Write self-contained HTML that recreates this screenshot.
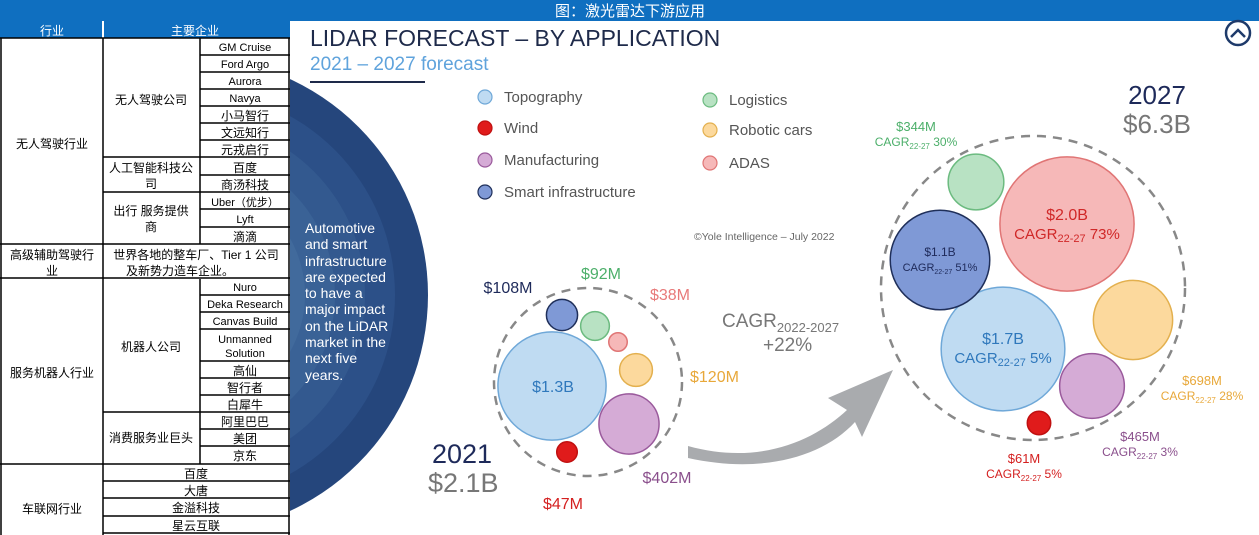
<!DOCTYPE html>
<html><head><meta charset="utf-8">
<style>
html,body{margin:0;padding:0;background:#fff;}
svg{display:block;font-family:"Liberation Sans","Noto Sans CJK SC",sans-serif;}
</style></head>
<body>
<svg id="root" width="1259" height="535" viewBox="0 0 1259 535" xmlns="http://www.w3.org/2000/svg">
  <rect x="0" y="0" width="1259" height="535" fill="#fff"/>
  <!-- left navy disc -->
  <g>
    <circle cx="190" cy="295" r="238" fill="#25467c"/>
    <circle cx="190" cy="295" r="205" fill="#2c5088"/>
    <circle cx="190" cy="295" r="175" fill="#33598f"/>
    <circle cx="190" cy="295" r="145" fill="#3a6296"/>
    <circle cx="190" cy="295" r="115" fill="#416a9c"/>
    <text fill="#fff" font-size="14" x="305">
      <tspan x="305" y="233">Automotive</tspan><tspan x="305" y="249">and smart</tspan><tspan x="305" y="266">infrastructure</tspan><tspan x="305" y="282">are expected</tspan><tspan x="305" y="298">to have a</tspan><tspan x="305" y="314">major impact</tspan><tspan x="305" y="331">on the LiDAR</tspan><tspan x="305" y="347">market in the</tspan><tspan x="305" y="363">next five</tspan><tspan x="305" y="380">years.</tspan>
    </text>
  </g>
  <!-- table -->
  <g font-size="12" fill="#000" text-anchor="middle">
    <rect x="0" y="21" width="290" height="514" fill="#fff"/>
    <rect x="0" y="21" width="290" height="17" fill="#0f6fc0"/>
    <line x1="103" y1="21" x2="103" y2="38" stroke="#fff" stroke-width="2"/>
    <text x="52" y="35" fill="#fff">行业</text>
    <text x="195" y="35" fill="#fff">主要企业</text>
    <g stroke="#000" stroke-width="1.5" fill="none">
      <line x1="1" y1="38" x2="1" y2="535"/>
      <line x1="103" y1="38" x2="103" y2="535"/>
      <line x1="200" y1="38" x2="200" y2="244"/>
      <line x1="200" y1="279" x2="200" y2="464"/>
      <line x1="289" y1="38" x2="289" y2="535"/>
      <line x1="0" y1="38" x2="290" y2="38"/>
      <line x1="200" y1="55" x2="290" y2="55"/><line x1="200" y1="72" x2="290" y2="72"/><line x1="200" y1="89" x2="290" y2="89"/><line x1="200" y1="106" x2="290" y2="106"/><line x1="200" y1="123" x2="290" y2="123"/><line x1="200" y1="140" x2="290" y2="140"/>
      <line x1="103" y1="157" x2="290" y2="157"/><line x1="200" y1="175" x2="290" y2="175"/>
      <line x1="103" y1="192" x2="290" y2="192"/><line x1="200" y1="209" x2="290" y2="209"/><line x1="200" y1="227" x2="290" y2="227"/>
      <line x1="0" y1="244" x2="290" y2="244"/>
      <line x1="0" y1="278" x2="290" y2="278"/>
      <line x1="200" y1="295" x2="290" y2="295"/><line x1="200" y1="312" x2="290" y2="312"/><line x1="200" y1="329" x2="290" y2="329"/><line x1="200" y1="361" x2="290" y2="361"/><line x1="200" y1="378" x2="290" y2="378"/><line x1="200" y1="395" x2="290" y2="395"/>
      <line x1="103" y1="412" x2="290" y2="412"/><line x1="200" y1="429" x2="290" y2="429"/><line x1="200" y1="446" x2="290" y2="446"/>
      <line x1="0" y1="464" x2="290" y2="464"/>
      <line x1="103" y1="481" x2="290" y2="481"/><line x1="103" y1="498" x2="290" y2="498"/><line x1="103" y1="516" x2="290" y2="516"/><line x1="103" y1="533" x2="290" y2="533"/>
    </g>
    <g font-size="11">
      <text x="245" y="51">GM Cruise</text><text x="245" y="68">Ford Argo</text><text x="245" y="85">Aurora</text><text x="245" y="102">Navya</text>
      <text x="245" y="120" font-size="12">小马智行</text><text x="245" y="137" font-size="12">文远知行</text><text x="245" y="154" font-size="12">元戎启行</text>
      <text x="245" y="172" font-size="12">百度</text><text x="245" y="189" font-size="12">商汤科技</text>
      <text x="245" y="206">Uber（优步）</text><text x="245" y="223">Lyft</text><text x="245" y="241" font-size="12">滴滴</text>
      <text x="245" y="291">Nuro</text><text x="245" y="308">Deka Research</text><text x="245" y="325">Canvas Build</text>
      <text x="245" y="343">Unmanned</text><text x="245" y="357">Solution</text>
      <text x="245" y="375" font-size="12">高仙</text><text x="245" y="392" font-size="12">智行者</text><text x="245" y="409" font-size="12">白犀牛</text>
      <text x="245" y="426" font-size="12">阿里巴巴</text><text x="245" y="443" font-size="12">美团</text><text x="245" y="460" font-size="12">京东</text>
    </g>
    <text x="151" y="104">无人驾驶公司</text>
    <text x="151" y="172">人工智能科技公</text><text x="151" y="188">司</text>
    <text x="151" y="215">出行 服务提供</text><text x="151" y="231">商</text>
    <text x="52" y="148">无人驾驶行业</text>
    <text x="52" y="259">高级辅助驾驶行</text><text x="52" y="275">业</text>
    <text x="196" y="259">世界各地的整车厂、Tier  1 公司</text><text x="180" y="275">及新势力造车企业。</text>
    <text x="151" y="351">机器人公司</text>
    <text x="151" y="442">消费服务业巨头</text>
    <text x="52" y="377">服务机器人行业</text>
    <text x="196" y="478">百度</text><text x="196" y="495">大唐</text><text x="196" y="512">金溢科技</text><text x="196" y="530">星云互联</text>
    <text x="52" y="513">车联网行业</text>
  </g>
  <!-- top bar -->
  <rect x="0" y="0" width="1259" height="21" fill="#0f6fc0"/>
  <text x="630" y="16" font-size="15" fill="#fff" text-anchor="middle">图：激光雷达下游应用</text>

  <!-- infographic headings -->
  <text x="310" y="46" font-size="23" fill="#1e2a4a">LIDAR FORECAST – BY APPLICATION</text>
  <text x="310" y="70" font-size="19" fill="#5fa3dc">2021 – 2027 forecast</text>
  <line x1="310" y1="82" x2="425" y2="82" stroke="#1e2a4a" stroke-width="2"/>
  <text x="694" y="240" font-size="10.5" fill="#666">©Yole Intelligence – July 2022</text>
  <g>
    <circle cx="1238" cy="33" r="12" fill="#fff" stroke="#1e3a6a" stroke-width="2.5"/>
    <path d="M1231 37 L1238 30 L1245 37" fill="none" stroke="#1e3a6a" stroke-width="2.5"/>
  </g>
  <g id="legend"></g>
  <!-- arrow -->
  <path d="M688 446 C760 466 815 440 847 410 L828 398 L893 370 L862 437 L855 422 C822 458 760 474 688 458 Z" fill="#a9abae"/>
  <text x="722" y="327" font-size="19" fill="#777">CAGR<tspan font-size="13" dy="5">2022-2027</tspan></text>
  <text x="763" y="351" font-size="19" fill="#777">+22%</text>
  <text x="432" y="463" font-size="27" fill="#1e2a5a">2021</text>
  <text x="428" y="492" font-size="27" fill="#777">$2.1B</text>
  <text x="1157" y="104" font-size="26" fill="#1e2a5a" text-anchor="middle">2027</text>
  <text x="1157" y="133" font-size="26" fill="#777" text-anchor="middle">$6.3B</text>
  <circle cx="588" cy="382" r="94" fill="none" stroke="#888" stroke-width="2.5" stroke-dasharray="9 7"/>
  <circle cx="1033" cy="288" r="152" fill="none" stroke="#888" stroke-width="2.5" stroke-dasharray="9 7"/>
  <g id="bubbles"></g>
</svg>
<script>
const categories = ["Topography","Wind","Manufacturing","Smart infrastructure","Logistics","Robotic cars","ADAS"];
const values2021 = [1300, 47, 402, 108, 92, 120, 38];
const values2027 = [1700, 61, 465, 1100, 344, 698, 2000];
const labels2021 = ["$1.3B","$47M","$402M","$108M","$92M","$120M","$38M"];
const labels2027 = ["$1.7B","$61M","$465M","$1.1B","$344M","$698M","$2.0B"];
const cagr2027 = ["5%","5%","3%","51%","30%","28%","73%"];

const fills = ["#bfdbf2","#e01b1b","#d5abd6","#7f99d6","#b8e2c3","#fcd99d","#f6b8b8"];
const strokes = ["#6fa8d8","#c01010","#9a5a9c","#1f2f5a","#6cbb80","#e3b04e","#e07575"];
const textCols = ["#2f78bc","#d42020","#8a4f8c","#1e2a5a","#4caf6a","#e8a83a","#e87a7a"];
const inner2027Cols = ["#2f78bc","#d42020","#8a4f8c","#1e2a5a","#4caf6a","#e8a83a","#d02828"];
// layout (bubble centres and label anchors, not data)
const pos2021 = [[552,386],[567,452],[629,424],[562,315],[595,326],[636,370],[618,342]];
const lab2021 = [[553,392,"middle"],[563,509,"middle"],[667,483,"middle"],[508,293,"middle"],[601,279,"middle"],[690,382,"start"],[670,300,"middle"]];
const pos2027 = [[1003,349],[1039,423],[1092,386],[940,260],[976,182],[1133,320],[1067,224]];
const lab2027 = [[1003,344],[1024,463],[1140,441],[940,256],[916,131],[1202,385],[1067,220]];
const scale = 1.5;
const r = v => scale * Math.sqrt(v);
const NS = "http://www.w3.org/2000/svg";
const bub = document.getElementById("bubbles");
function mk(tag, attrs, parent){ const e=document.createElementNS(NS,tag); for(const k in attrs) e.setAttribute(k,attrs[k]); parent.appendChild(e); return e; }

categories.forEach((c,i)=>{
  const b = mk("circle",{cx:pos2021[i][0],cy:pos2021[i][1],r:r(values2021[i]),fill:fills[i],stroke:strokes[i],"stroke-width":1.5},bub);
  
  
  const b2 = mk("circle",{cx:pos2027[i][0],cy:pos2027[i][1],r:r(values2027[i]),fill:fills[i],stroke:strokes[i],"stroke-width":1.5},bub);
  
  
});
categories.forEach((c,i)=>{
  const col = inner2027Cols[i];
  const big = values2027[i] >= 1500;
  const t = mk("text",{x:lab2021[i][0],y:lab2021[i][1],"text-anchor":lab2021[i][2],"font-size":16,fill:textCols[i]},bub);
  t.textContent = labels2021[i];
  
  
  const fs = big ? 16 : (i===3 ? 12 : 13);
  const t2 = mk("text",{x:lab2027[i][0],y:lab2027[i][1],"text-anchor":"middle","font-size":fs,fill:col},bub);
  t2.textContent = labels2027[i];
  
  
  const t3 = mk("text",{x:lab2027[i][0],y:lab2027[i][1]+(big?19:15),"text-anchor":"middle","font-size":fs-1,fill:col},bub);
  t3.innerHTML = 'CAGR<tspan font-size="'+(fs-5)+'" dy="3">22-27</tspan><tspan dy="-3"> '+cagr2027[i]+'</tspan>';
  
  
});
// legend
const leg = document.getElementById("legend");
const legPos = [[485,97],[485,128],[485,160],[485,192],[710,100],[710,130],[710,163]];
categories.forEach((c,i)=>{
  const g = mk("g",{},leg);
  
  
  mk("circle",{cx:legPos[i][0],cy:legPos[i][1],r:7,fill:fills[i],stroke:strokes[i],"stroke-width":1.2},g);
  const t = mk("text",{x:legPos[i][0]+19,y:legPos[i][1]+5,"font-size":15,fill:"#555"},g);
  t.textContent = c;
});
</script>
</body></html>
